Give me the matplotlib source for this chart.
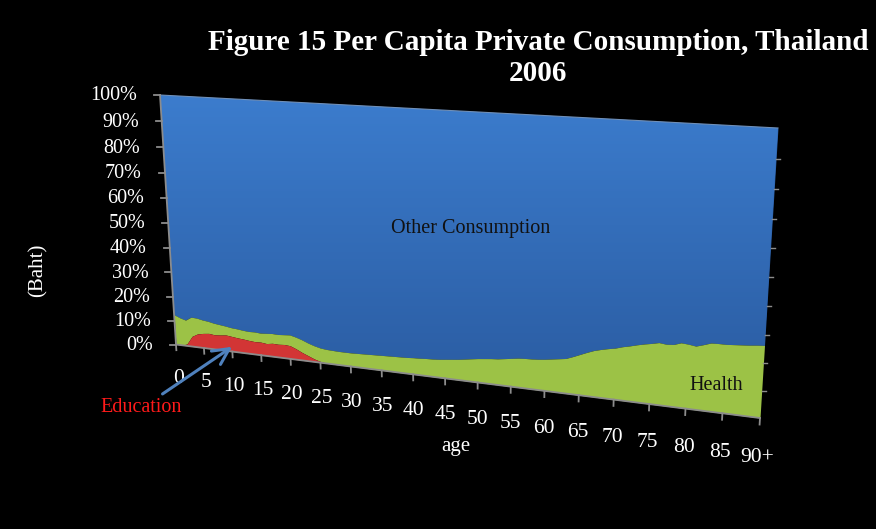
import numpy as np
import matplotlib
matplotlib.use("Agg")
import matplotlib.pyplot as plt
from matplotlib.transforms import Transform, offset_copy
from matplotlib.colors import LinearSegmentedColormap

# ---- data: share of per capita private consumption by age (percent) ----
ages = np.arange(0, 91)
education = np.array([
    0.0, 0.0, 0.8, 4.3, 5.6, 6.1, 6.4, 6.1, 6.3, 6.6,
    6.3, 6.0, 5.8, 5.5, 5.3, 5.4, 5.1, 5.5, 5.4, 5.6,
    5.4, 4.4, 3.2, 2.2, 1.2, 0.5, 0.1, 0.0, 0.0, 0.0,
] + [0.0] * 61)
health = np.array([
    12.5, 11.5, 10.0, 8.0, 6.6, 5.6, 5.0, 4.8, 4.3, 3.7,
    3.6, 3.7, 3.6, 3.7, 4.0, 3.7, 4.2, 4.0, 4.0, 4.0,
    4.4, 4.8, 5.2, 5.2, 5.4, 5.5, 5.6, 5.6, 5.5, 5.5,
    5.5, 5.6, 5.7, 5.8, 5.9, 6.0, 6.1, 6.2, 6.3, 6.4,
    6.6, 6.7, 6.9, 7.0, 7.2, 7.5, 7.8, 8.1, 8.5, 8.9,
    9.3, 9.6, 9.9, 10.1, 10.5, 10.9, 11.3, 11.5, 11.6, 11.8,
    12.1, 12.5, 12.9, 13.3, 14.3, 15.4, 16.5, 17.5, 18.2, 18.8,
    19.3, 20.1, 20.7, 21.4, 22.0, 22.5, 23.1, 22.8, 23.0, 23.9,
    23.7, 23.3, 24.1, 25.0, 25.1, 25.1, 25.3, 25.5, 25.7, 26.0,
    26.2,
])
other = 100.0 - education - health

x_tick_ages = np.arange(0, 91, 5)
x_tick_labels = [str(a) for a in x_tick_ages[:-1]] + ["90+"]
y_ticks = np.arange(0, 101, 10)
y_tick_labels = [f"{v}%" for v in y_ticks]

# ---- layout / style ----
W, H = 876, 529
SERIF = ["Liberation Serif", "DejaVu Serif"]
C_BLUE_TOP, C_BLUE_BOT = "#3c7dce", "#2c5fa6"
C_GREEN = "#9cc246"
C_RED = "#d23535"
C_AXIS = "#8c8c8c"

# front face of the 3-D area in pixel space: (age, share) corners -> pixels
FACE_SRC = [(0, 0), (0, 100), (90, 100), (90, 0)]
FACE_DST = [(176, 344.5), (160, 95), (778, 128), (760, 418)]


def homography(src, dst):
    A, b = [], []
    for (x, y), (X, Y) in zip(src, dst):
        A.append([x, y, 1, 0, 0, 0, -X * x, -X * y]); b.append(X)
        A.append([0, 0, 0, x, y, 1, -Y * x, -Y * y]); b.append(Y)
    h = np.linalg.solve(np.array(A, float), np.array(b, float))
    return np.append(h, 1.0).reshape(3, 3)


class Perspective(Transform):
    """Projective map from (age, share) to the pixel space of the canvas axes."""
    input_dims = output_dims = 2
    is_separable = False
    has_inverse = False

    def __init__(self, matrix):
        super().__init__()
        self.matrix = matrix

    def transform_non_affine(self, values):
        v = np.asarray(values, float).reshape(-1, 2)
        p = np.column_stack([v, np.ones(len(v))]) @ self.matrix.T
        return p[:, :2] / p[:, 2:3]


fig = plt.figure(figsize=(W / 100, H / 100), dpi=100, facecolor="black")
ax = fig.add_axes([0, 0, 1, 1])
ax.set_facecolor("black")
ax.set_xlim(0, W)
ax.set_ylim(H, 0)
ax.axis("off")

persp = Perspective(homography(FACE_SRC, FACE_DST))
trans = persp + ax.transData

# stacked areas: education at the bottom, health, then other consumption
lvl1 = education
lvl2 = education + health
lvl3 = lvl2 + other
blue = ax.fill_between(ages, lvl2, lvl3, transform=trans, color=C_BLUE_BOT,
                       linewidth=0, zorder=2)
ax.fill_between(ages, lvl1, lvl2, transform=trans, color=C_GREEN,
                linewidth=0, zorder=3)
ax.fill_between(ages, 0, lvl1, transform=trans, color=C_RED,
                linewidth=0, zorder=4)

# soft vertical shading on the "other consumption" face
cmap = LinearSegmentedColormap.from_list("face", [C_BLUE_TOP, C_BLUE_BOT])
grad = np.linspace(0, 1, 256).reshape(-1, 1)
img = ax.imshow(grad, cmap=cmap, extent=(150, 790, 360, 90), aspect="auto",
                zorder=2.5, interpolation="bilinear")
img.set_clip_path(blue.get_paths()[0], blue.get_transform())
ax.set_xlim(0, W)
ax.set_ylim(H, 0)

# axes lines
ax.plot([0, 90], [0, 0], transform=trans, color=C_AXIS, lw=1.3, zorder=5)
ax.plot([0, 0], [0, 100], transform=trans, color=C_AXIS, lw=1.3, zorder=5)
ax.plot([0, 90], [100, 100], transform=trans, color="#6f8fb8", lw=0.8, zorder=5)

# y ticks on the left edge, small ticks on the right edge
for v, lab in zip(y_ticks, y_tick_labels):
    px, py = persp.transform([(0, v)])[0]
    ax.plot([px - 6, px], [py, py], color=C_AXIS, lw=1.3, zorder=5)
    ax.text(0, v, lab, transform=offset_copy(trans, fig=fig, x=-23, y=-1, units="dots"),
            ha="right", va="center", color="white", fontsize=14.5, family=SERIF)
    if 0 < v < 100:
        rx, ry = persp.transform([(90, v)])[0]
        ax.plot([rx, rx + 4], [ry, ry], color=C_AXIS, lw=1.0, zorder=5)

# x ticks and labels along the receding bottom edge
for a, lab in zip(x_tick_ages, x_tick_labels):
    ax.plot([a, a], [0, -2.4], transform=trans, color=C_AXIS, lw=1.3, zorder=5)
    ax.text(a, -14.5, lab, transform=trans, ha="center", va="center",
            color="white", fontsize=15.5, family=SERIF)

# titles and labels
ax.text(538, 58, "Figure 15 Per Capita Private Consumption, Thailand\n2006",
        ha="center", va="center", color="white", fontsize=21, fontweight="bold",
        family=SERIF, linespacing=1.2)
ax.text(456, 447, "age", ha="center", va="center", color="white",
        fontsize=15, family=SERIF)
ax.text(38, 270, "(Baht)", ha="center", va="center", rotation=90,
        color="white", fontsize=15, family=SERIF)
ax.text(471, 228, "Other Consumption", ha="center", va="center",
        color="#111111", fontsize=14.5, family=SERIF, zorder=6)
ax.text(716, 385, "Health", ha="center", va="center",
        color="#111111", fontsize=14.5, family=SERIF, zorder=6)
ax.annotate("Education", xy=(10, 2), xycoords=trans, xytext=(141, 407),
            textcoords="data", ha="center", va="center", color="#ff1a1a",
            fontsize=14.5, family=SERIF, zorder=7,
            arrowprops=dict(arrowstyle="->,head_length=0.8,head_width=0.4",
                            color="#4f81bd", lw=2.2, relpos=(0.7, 1.0),
                            shrinkA=1, shrinkB=0))

fig.savefig("out.png", dpi=100, facecolor="black")
